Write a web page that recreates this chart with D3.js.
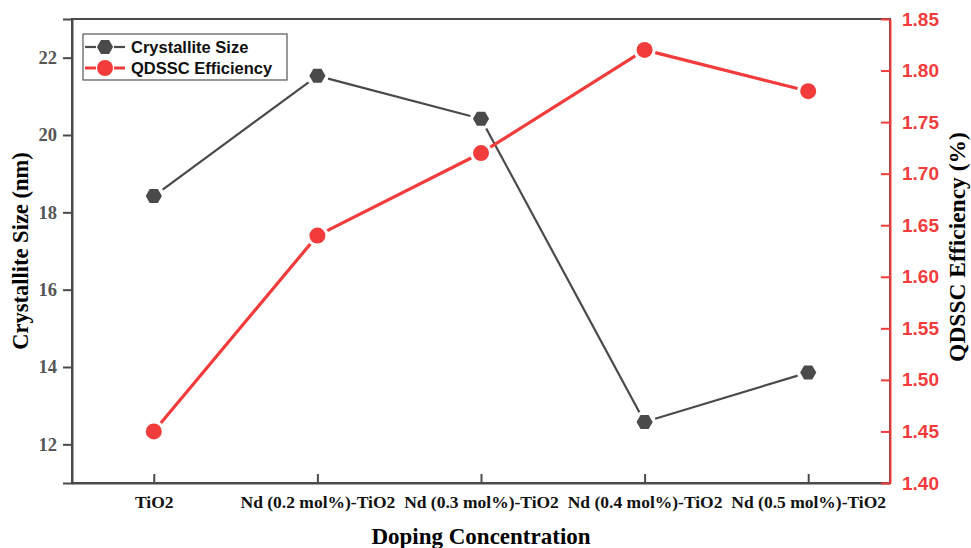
<!DOCTYPE html>
<html><head><meta charset="utf-8">
<script src="https://cdn.jsdelivr.net/npm/d3@7"></script>
<style>body{margin:0;background:#fff}svg{display:block}</style>
</head><body><svg id="c" width="971" height="548"></svg>
<script>
const categories = ["TiO2","Nd (0.2 mol%)-TiO2","Nd (0.3 mol%)-TiO2","Nd (0.4 mol%)-TiO2","Nd (0.5 mol%)-TiO2"];
const crystalliteSize = [18.42, 21.53, 20.42, 12.58, 13.86];
const efficiency = [1.45, 1.64, 1.72, 1.82, 1.78];
const leftTicks = [12,14,16,18,20,22];
const rightTicks = [1.40,1.45,1.50,1.55,1.60,1.65,1.70,1.75,1.80,1.85];

const W=971,H=548, L=72, R=890, T=19, B=483;
const gray="#4a4a4a", red="#f23c3c";
const svg=d3.select("#c");
const x=d3.scalePoint().domain(categories).range([L,R]).padding(0.5);
const yL=d3.scaleLinear().domain([11,23]).range([B,T]);
const yR=d3.scaleLinear().domain([1.40,1.85]).range([B,T]);

// frame
svg.append("rect").attr("x",L).attr("y",T).attr("width",R-L).attr("height",B-T)
  .attr("fill","none").attr("stroke",gray).attr("stroke-width",2);

// left axis
const ga=svg.append("g").attr("transform",`translate(${L},0)`)
  .call(d3.axisLeft(yL).tickValues(leftTicks).tickSize(9).tickPadding(6).tickFormat(d3.format("d")));
ga.select(".domain").attr("stroke",gray).attr("stroke-width",2);
ga.selectAll(".tick line").attr("stroke",gray).attr("stroke-width",2);
ga.selectAll(".tick text").attr("fill","#555").style("font-family","'Liberation Serif',serif").style("font-weight","bold").style("font-size","18.5px");

// bottom axis (ticks inward)
const gb=svg.append("g").attr("transform",`translate(0,${B})`)
  .call(d3.axisBottom(x).tickSize(0).tickPadding(13));
gb.select(".domain").attr("stroke",gray).attr("stroke-width",2);
gb.selectAll(".tick line").attr("y2",-9).attr("stroke",gray).attr("stroke-width",2);
gb.selectAll(".tick text").attr("fill","#111").style("font-family","'Liberation Serif',serif").style("font-weight","bold").style("font-size","17.5px");

// right axis (ticks inward)
const gr=svg.append("g").attr("transform",`translate(${R},0)`)
  .call(d3.axisRight(yR).tickValues(rightTicks).tickSize(0).tickPadding(12).tickFormat(d3.format(".2f")));
gr.select(".domain").attr("stroke",red).attr("stroke-width",2);
gr.selectAll(".tick line").attr("x2",-9).attr("stroke",red).attr("stroke-width",2);
gr.selectAll(".tick text").attr("fill",red).style("font-family","'Liberation Sans',Arial,sans-serif").style("font-weight","bold").style("font-size","19px");

// titles
svg.append("text").attr("transform",`translate(28,251) rotate(-90)`).attr("text-anchor","middle")
  .style("font-family","'Liberation Serif',serif").style("font-weight","bold").style("font-size","22.5px").attr("fill","#000")
  .text("Crystallite Size (nm)");
svg.append("text").attr("transform",`translate(965,247) rotate(-90)`).attr("text-anchor","middle")
  .style("font-family","'Liberation Serif',serif").style("font-weight","bold").style("font-size","23.5px").attr("fill","#000")
  .text("QDSSC Efficiency (%)");
svg.append("text").attr("x",(L+R)/2).attr("y",544).attr("text-anchor","middle")
  .style("font-family","'Liberation Serif',serif").style("font-weight","bold").style("font-size","23px").attr("fill","#000")
  .text("Doping Concentration");

// lines with gaps near markers
function gappedSegments(vals, ys, gap){
  const segs=[];
  for(let i=0;i<vals.length-1;i++){
    const x1=x(categories[i]), y1=ys(vals[i]), x2=x(categories[i+1]), y2=ys(vals[i+1]);
    const dx=x2-x1, dy=y2-y1, len=Math.hypot(dx,dy);
    const ux=dx/len, uy=dy/len;
    segs.push([[x1+ux*gap,y1+uy*gap],[x2-ux*gap,y2-uy*gap]]);
  }
  return segs;
}
const line=d3.line();
gappedSegments(crystalliteSize,yL,11).forEach(s=>{
  svg.append("path").attr("d",line(s)).attr("stroke",gray).attr("stroke-width",2.2).attr("fill","none");
});
gappedSegments(efficiency,yR,11).forEach(s=>{
  svg.append("path").attr("d",line(s)).attr("stroke",red).attr("stroke-width",3.2).attr("fill","none");
});

const hex=d3.symbol().type({draw(ctx,size){const r=Math.sqrt(size/2.598);for(let i=0;i<6;i++){const a=Math.PI/3*i+Math.PI/6;const px=r*Math.cos(a),py=r*Math.sin(a);i?ctx.lineTo(px,py):ctx.moveTo(px,py);}ctx.closePath();}}).size(170);
svg.selectAll(".hx").data(crystalliteSize).join("path").attr("class","hx")
  .attr("d",hex).attr("transform",(d,i)=>`translate(${x(categories[i])},${yL(d)}) rotate(90)`).attr("fill",gray);
svg.selectAll(".ci").data(efficiency).join("circle").attr("class","ci")
  .attr("cx",(d,i)=>x(categories[i])).attr("cy",d=>yR(d)).attr("r",8).attr("fill",red);

// legend
const lg=svg.append("g");
lg.append("rect").attr("x",83).attr("y",34).attr("width",204).attr("height",46).attr("fill","#fff").attr("stroke","#555").attr("stroke-width",1.2);
const items=[{name:"Crystallite Size",c:gray,t:"hex",y:47},{name:"QDSSC Efficiency",c:red,t:"circ",y:68}];
items.forEach(it=>{
  lg.append("line").attr("x1",85).attr("x2",96).attr("y1",it.y).attr("y2",it.y).attr("stroke",it.c).attr("stroke-width",it.t=="hex"?2.2:3);
  lg.append("line").attr("x1",114).attr("x2",125).attr("y1",it.y).attr("y2",it.y).attr("stroke",it.c).attr("stroke-width",it.t=="hex"?2.2:3);
  if(it.t=="hex") lg.append("path").attr("d",hex).attr("transform",`translate(105,${it.y}) rotate(90)`).attr("fill",it.c);
  else lg.append("circle").attr("cx",105).attr("cy",it.y).attr("r",8).attr("fill",it.c);
  lg.append("text").attr("x",131).attr("y",it.y+6).text(it.name)
    .style("font-family","'Liberation Sans',Arial,sans-serif").style("font-weight","bold").style("font-size","16.5px").attr("fill","#111");
});
</script></body></html>
